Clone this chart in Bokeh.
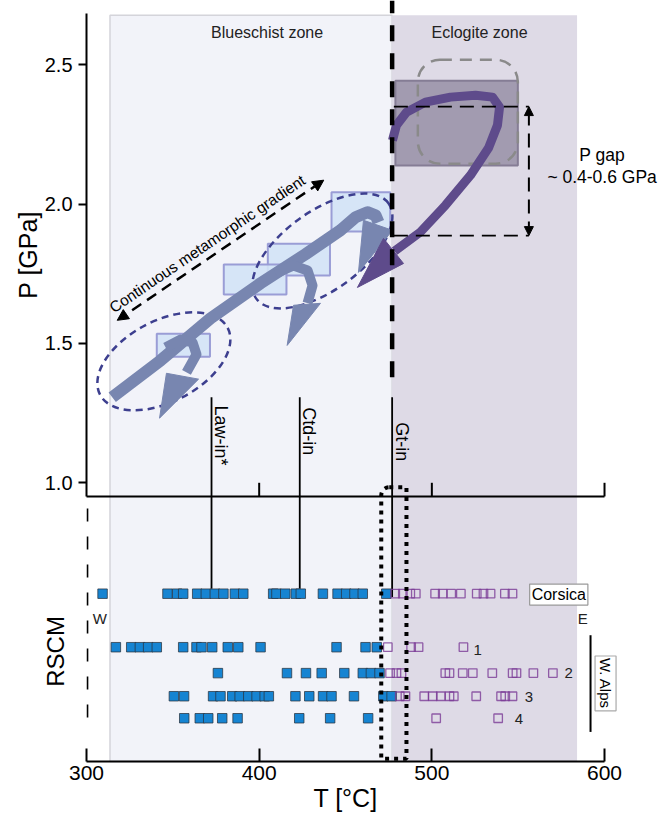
import math
from bokeh.plotting import figure
from bokeh.models import Range1d, FixedTicker, BoxAnnotation, Label, Arrow, NormalHead, PrintfTickFormatter
from bokeh.embed import file_html
from bokeh.resources import INLINE

FONT = "Liberation Sans"

# ---------------- data ----------------
x_ticks = [300, 400, 500, 600]
y_ticks = [1.0, 1.5, 2.0, 2.5]
T_axis = (300, 600)
P_axis_top = 2.683
P_axis_bottom = 0.0
panel_split_P = 0.951          # P level of the line separating the two panels

zone_names = ["Blueschist zone", "Eclogite zone"]
zone_T_min = [313.6, 477.0]
zone_T_max = [477.0, 584.1]
zone_P_top = 2.678
zone_label_T = [404.6, 527.6]
zone_label_P = [2.615, 2.615]
zone_colors = ["#f2f3f9", "#dedae6"]

isograd_names = ["Law-in*", "Ctd-in", "Gt-in"]
isograd_T = [372.4, 423.5, 477.0]
isograd_P_top = [1.307, 1.307, 1.307]
isograd_P_bottom = [0.62, 0.62, 0.59]
isograd_label_P = [1.277, 1.271, 1.217]
boundary_T = 477.0
boundary_P_bottom = 1.379

# blueschist P-T boxes
bs_T_min = [441.9, 405.0, 379.5, 340.7]
bs_T_max = [475.9, 441.0, 415.8, 371.5]
bs_P_min = [1.902, 1.744, 1.676, 1.452]
bs_P_max = [2.043, 1.858, 1.783, 1.535]

# eclogite P-T box and dashed field
ec_T_min, ec_T_max, ec_P_min, ec_P_max = 478.9, 549.8, 2.139, 2.443
ecf_T_min, ecf_T_max, ecf_P_min, ecf_P_max = 491.9, 549.8, 2.145, 2.518

# dashed ellipses (centre T, centre P)
ell_T = [344.8, 436.6]
ell_P = [1.436, 1.832]

# P-T paths
bs_main_T = [314.9, 342.9, 371.8, 400.8, 426.8, 447.1, 455.8, 462.7, 467.4, 469.1]
bs_main_P = [1.307, 1.439, 1.590, 1.716, 1.820, 1.906, 1.953, 1.971, 1.960, 1.935]
bs_main_head_T = [457.5, 460.4, 477.2]
bs_main_head_P = [1.755, 1.942, 1.906]

hook1_T = [345.8, 354.4, 361.4, 363.7, 357.9]
hook1_P = [1.486, 1.514, 1.504, 1.461, 1.396]
hook1_head_T = [342.3, 346.3, 364.9]
hook1_head_P = [1.232, 1.393, 1.372]

hook2_T = [409.5, 419.9, 428.0, 430.9, 428.0]
hook2_P = [1.751, 1.780, 1.762, 1.708, 1.645]
hook2_head_T = [416.2, 419.9, 435.5]
hook2_head_P = [1.493, 1.637, 1.644]

ecl_T = [477.2, 479.5, 485.3, 496.3, 510.8, 525.3, 535.1, 539.2, 538.0, 532.8, 522.4, 507.9, 493.4, 478.4]
ecl_P = [2.229, 2.283, 2.330, 2.366, 2.384, 2.391, 2.384, 2.348, 2.283, 2.201, 2.104, 1.996, 1.900, 1.831]
ecl_head_T = [456.9, 472.0, 483.6]
ecl_head_P = [1.701, 1.877, 1.787]

# gradient arrow
grad_T = [317.8, 437.4]
grad_P = [1.583, 2.086]
grad_label_T, grad_label_P = 369.9, 1.858

# P gap
pgap_T = [478.0, 556.2]
pgap_P = [1.887, 2.350]
pgap_label_T = 598.6
pgap_label_P = [2.175, 2.097]

# RSCM rows
row_names = ["Corsica", "1", "2", "3", "4"]
row_P = [0.602, 0.410, 0.317, 0.234, 0.155]
row_label_T = [573.5, 526.5, 579.3, 556.2, 550.4]
row_label_P = [0.599, 0.401, 0.317, 0.231, 0.153]

corsica_blue = [309.3, 346.9, 352.5, 356.0, 364.1, 369.1, 374.3, 379.3, 385.9, 390.8, 408.1, 410.0,
                415.1, 421.2, 424.1, 436.9, 445.4, 450.4, 455.2, 460.0, 473.6]
corsica_purple = [478.8, 483.2, 487.5, 490.7, 501.9, 506.3, 511.2, 516.8, 526.0, 529.9, 534.0, 542.3, 546.7]
alps1_blue = [317.0, 325.9, 330.9, 335.7, 340.7, 356.0, 363.7, 366.6, 372.8, 381.8, 387.9, 400.8,
              444.8, 461.6, 468.1]
alps1_purple = [474.5, 488.0, 492.3, 518.3]
alps2_blue = [376.1, 416.1, 427.1, 436.2, 449.3, 460.0, 464.7, 469.7]
alps2_purple = [475.8, 479.5, 482.4, 507.8, 510.2, 517.9, 523.7, 535.0, 546.8, 549.0, 558.8, 570.1]
alps3_blue = [350.6, 356.5, 373.3, 377.6, 384.4, 388.7, 393.7, 398.5, 403.2, 405.6, 421.0, 429.0,
              437.0, 441.9, 454.9, 471.9, 476.7]
alps3_purple = [481.4, 484.7, 495.6, 500.5, 505.2, 510.2, 512.7, 525.7, 540.1, 542.5, 546.7]
alps4_blue = [356.6, 365.6, 370.5, 378.6, 387.5, 423.2, 441.1, 463.1]
alps4_purple = [502.5, 538.4]
blue_rows = [corsica_blue, alps1_blue, alps2_blue, alps3_blue, alps4_blue]
purple_rows = [corsica_purple, alps1_purple, alps2_purple, alps3_purple, alps4_purple]

# Gt-in uncertainty band (dotted box)
band_T = [470.7, 485.3]
band_P = [0.01, 0.984]

W_pos = (307.7, 0.512)
E_pos = (587.4, 0.512)
W_line_T, W_line_P = 300.6, [0.158, 0.936]
alps_line_T, alps_line_P = 591.9, [0.106, 0.453]
alps_label = (600.6, 0.28)
rscm_label = (282.0, 0.395)

# ---------------- figure ----------------
# the frame covers the whole canvas; the axes are fixed at T = 300 and P = 0
p = figure(width=662, height=818, output_backend="svg", toolbar_location=None,
           x_range=Range1d(250.19, 633.58), y_range=Range1d(-0.2047, 2.7307),
           min_border_left=0, min_border_right=0, min_border_top=0, min_border_bottom=0)
p.outline_line_color = None
p.grid.visible = False
p.background_fill_color = "white"
p.border_fill_color = "white"

ax = p.xaxis[0]
ax.fixed_location = P_axis_bottom
ax.ticker = FixedTicker(ticks=x_ticks)
ax.bounds = T_axis
ax.major_tick_in = 13
ax.major_tick_out = 0
ax.minor_tick_line_color = None
ax.axis_line_width = 2
ax.major_tick_line_width = 2
ax.major_label_text_font = FONT
ax.major_label_text_font_size = "21px"
ax.major_label_text_color = "black"
ax.major_label_standoff = 5
ax.axis_label = "T [°C]"
ax.axis_label_text_font = FONT
ax.axis_label_text_font_size = "25px"
ax.axis_label_text_font_style = "normal"
ax.axis_label_text_color = "black"
ax.axis_label_standoff = 0

ay = p.yaxis[0]
ay.fixed_location = T_axis[0]
ay.ticker = FixedTicker(ticks=y_ticks)
ay.formatter = PrintfTickFormatter(format="%.1f")
ay.bounds = (panel_split_P, P_axis_top)
ay.major_tick_in = 0
ay.major_tick_out = 8
ay.minor_tick_line_color = None
ay.axis_line_width = 2
ay.major_tick_line_width = 2
ay.major_label_text_font = FONT
ay.major_label_text_font_size = "20px"
ay.major_label_text_color = "black"
ay.major_label_standoff = 6
ay.axis_label = "P [GPa]"
ay.axis_label_text_font = FONT
ay.axis_label_text_font_size = "25px"
ay.axis_label_text_font_style = "normal"
ay.axis_label_text_color = "black"
ay.axis_label_standoff = 0

# zones (underlay)
for i in range(2):
    p.add_layout(BoxAnnotation(left=zone_T_min[i], right=zone_T_max[i], bottom=P_axis_bottom, top=zone_P_top,
                               fill_color=zone_colors[i], fill_alpha=1.0,
                               line_color="#d4d4da" if i == 0 else None, line_alpha=1.0, line_width=1.5,
                               level="underlay"))
p.add_layout(BoxAnnotation(left=ec_T_min, right=ec_T_max, bottom=ec_P_min, top=ec_P_max,
                           fill_color="#a29bb0", fill_alpha=1.0, line_color="#857d95", line_alpha=1.0,
                           line_width=2, level="underlay"))
p.add_layout(BoxAnnotation(left=ecf_T_min, right=ecf_T_max, bottom=ecf_P_min, top=ecf_P_max,
                           fill_alpha=0, line_color="#8a8a8a", line_alpha=1.0, line_width=2.5,
                           line_dash="12 8", border_radius=22, level="underlay"))

for i, name in enumerate(zone_names):
    p.add_layout(Label(x=zone_label_T[i], y=zone_label_P[i], text=name, text_align="center",
                       text_baseline="middle", text_font=FONT, text_font_size="16px", text_color="#222222"))

# blueschist boxes
p.quad(left=bs_T_min, right=bs_T_max, bottom=bs_P_min, top=bs_P_max,
       fill_color="#d3e3f6", fill_alpha=0.9, line_color="#9a9dd6", line_width=2)

# ellipses
p.ellipse(x=ell_T, y=ell_P, width=[144, 163], height=[81, 79], angle=[27.6, 35.8],
          width_units="screen", height_units="screen", angle_units="deg",
          fill_alpha=0, line_color="#3d3f8f", line_width=2.5, line_dash="7 5")

# gradient arrow
head = dict(size=11, fill_color="black", line_color="black")
p.add_layout(Arrow(x_start=grad_T[0], y_start=grad_P[0], x_end=grad_T[1], y_end=grad_P[1],
                   start=NormalHead(**head), end=NormalHead(**head),
                   line_width=2.5, line_dash="11 7", line_color="black"))
ang = math.degrees(math.atan2(140, 206.6))
p.add_layout(Label(x=grad_label_T, y=grad_label_P, text="Continuous metamorphic gradient",
                   angle=ang, angle_units="deg", text_align="center", text_baseline="middle",
                   text_font=FONT, text_font_size="15.5px", text_color="black"))

# P-T paths
bs_col = "#7886b0"
p.line(bs_main_T, bs_main_P, line_width=12, line_color=bs_col, line_join="round")
p.patch(bs_main_head_T, bs_main_head_P, fill_color=bs_col, line_color=bs_col)
for tt, pp, ht, hp in [(hook1_T, hook1_P, hook1_head_T, hook1_head_P),
                       (hook2_T, hook2_P, hook2_head_T, hook2_head_P)]:
    p.line(tt, pp, line_width=10, line_color=bs_col, line_join="round")
    p.patch(ht, hp, fill_color=bs_col, line_color=bs_col)

ecl_col = "#5e4b8b"
p.line(ecl_T, ecl_P, line_width=9, line_color=ecl_col, line_join="round")
p.patch(ecl_head_T, ecl_head_P, fill_color=ecl_col, line_color=ecl_col)

# boundary dashed line
p.segment(x0=[boundary_T], y0=[boundary_P_bottom], x1=[boundary_T], y1=[2.7307],
          line_color="black", line_width=4.5, line_dash="16 12")

# P gap
p.segment(x0=[pgap_T[0], pgap_T[0]], y0=pgap_P, x1=[pgap_T[1], pgap_T[1]], y1=pgap_P,
          line_color="black", line_width=1.6, line_dash="14 8")
h2 = dict(size=9, fill_color="black", line_color="black")
p.add_layout(Arrow(x_start=pgap_T[1], y_start=pgap_P[0], x_end=pgap_T[1], y_end=pgap_P[1],
                   start=NormalHead(**h2), end=NormalHead(**h2),
                   line_width=2, line_dash="14 8", line_color="black"))
for txt, yy in zip(["P gap", "~ 0.4-0.6 GPa"], pgap_label_P):
    p.add_layout(Label(x=pgap_label_T, y=yy, text=txt, text_align="center", text_baseline="middle",
                       text_font=FONT, text_font_size="17.5px", text_color="black"))

# panel split line with ticks
p.segment(x0=[T_axis[0]], y0=[panel_split_P], x1=[T_axis[1]], y1=[panel_split_P],
          line_color="black", line_width=2)
p.segment(x0=x_ticks[1:], y0=[panel_split_P] * 3, x1=x_ticks[1:], y1=[1.0] * 3,
          line_color="black", line_width=2)

# isograds
p.segment(x0=isograd_T, y0=isograd_P_top, x1=isograd_T, y1=isograd_P_bottom,
          line_color="black", line_width=1.8)
for i, name in enumerate(isograd_names):
    p.add_layout(Label(x=isograd_T[i] + 5.5, y=isograd_label_P[i], text=name, angle=-90, angle_units="deg",
                       text_align="left", text_baseline="middle",
                       text_font=FONT, text_font_size="18px", text_color="black"))

# RSCM squares
for i in range(len(row_P)):
    p.scatter(blue_rows[i], [row_P[i]] * len(blue_rows[i]), marker="square", size=9.5,
              fill_color="#1684d2", line_color="#2a3440", line_alpha=0.75, line_width=1)
    p.scatter(purple_rows[i], [row_P[i]] * len(purple_rows[i]), marker="square", size=8.5,
              fill_alpha=0, line_color="#7a3b96", line_alpha=0.8, line_width=1.3)

p.add_layout(Label(x=row_label_T[0], y=row_label_P[0], text=row_names[0], text_align="center",
                   text_baseline="middle", text_font=FONT, text_font_size="16px", text_color="black",
                   background_fill_color="white", border_line_color="#9a9a9a", border_line_width=1.2,
                   padding=2))
for i in range(1, 5):
    p.add_layout(Label(x=row_label_T[i], y=row_label_P[i], text=row_names[i], text_align="center",
                       text_baseline="middle", text_font=FONT, text_font_size="15px", text_color="#222222"))

# W / E markers
p.segment(x0=[W_line_T], y0=[W_line_P[0]], x1=[W_line_T], y1=[W_line_P[1]],
          line_color="black", line_width=1.6, line_dash="13 15")
p.segment(x0=[alps_line_T], y0=[alps_line_P[0]], x1=[alps_line_T], y1=[alps_line_P[1]],
          line_color="black", line_width=2)
p.add_layout(Label(x=W_pos[0], y=W_pos[1], text="W", text_align="center", text_baseline="middle",
                   text_font=FONT, text_font_size="15px", text_color="#222222"))
p.add_layout(Label(x=E_pos[0], y=E_pos[1], text="E", text_align="center", text_baseline="middle",
                   text_font=FONT, text_font_size="15px", text_color="#222222"))
p.add_layout(Label(x=alps_label[0], y=alps_label[1], text="W. Alps", angle=-90, angle_units="deg",
                   text_align="center", text_baseline="middle", text_font=FONT, text_font_size="15px",
                   text_color="black", background_fill_color="white", border_line_color="#aaaaaa",
                   border_line_width=1.2, padding=2))

# dotted band
p.add_layout(BoxAnnotation(left=band_T[0], right=band_T[1], bottom=band_P[0], top=band_P[1],
                           fill_alpha=0, line_color="black", line_alpha=1.0, line_width=4,
                           line_dash="4 5", border_radius=(8, 0, 0, 0)))

# RSCM title
p.add_layout(Label(x=rscm_label[0], y=rscm_label[1], text="RSCM", angle=90, angle_units="deg",
                   text_align="center", text_baseline="middle", text_font=FONT, text_font_size="24px",
                   text_color="black"))

open("out.html", "w").write(file_html(p, INLINE))
